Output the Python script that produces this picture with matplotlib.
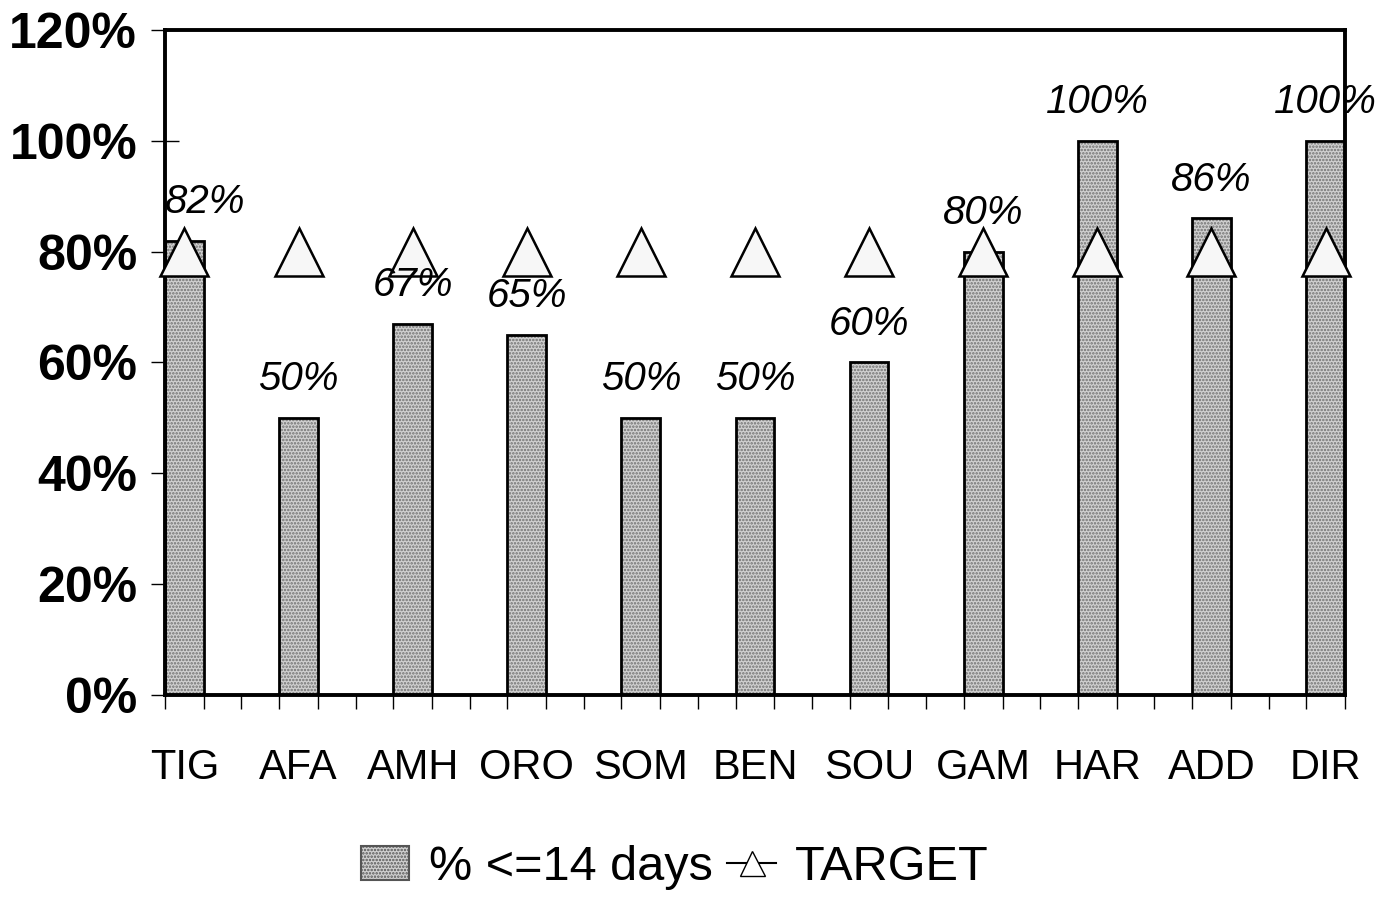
import matplotlib
matplotlib.use('Agg')
import matplotlib.pyplot as plt
import numpy as np
from matplotlib.patches import Patch
from matplotlib.lines import Line2D

# data
regions = ['TIG', 'AFA', 'AMH', 'ORO', 'SOM', 'BEN', 'SOU', 'GAM', 'HAR', 'ADD', 'DIR']
pct_14days = [82, 50, 67, 65, 50, 50, 60, 80, 100, 86, 100]
target = [80, 80, 80, 80, 80, 80, 80, 80, 80, 80, 80]
yticks = [0, 20, 40, 60, 80, 100, 120]

plt.rcParams['font.family'] = ['Liberation Sans', 'DejaVu Sans']
plt.rcParams['hatch.linewidth'] = 1.2

fig = plt.figure(figsize=(13.83, 9.06), dpi=100)
ax = fig.add_axes([0.1193, 0.2329, 0.8532, 0.734])

x = np.arange(len(regions))
w = 0.34
bar_face = '#d0d0d0'
# dotted fill, then black outline
ax.bar(x, pct_14days, width=w, color=bar_face, hatch='.....', edgecolor='#707070',
       linewidth=0, zorder=2)
ax.bar(x, pct_14days, width=w, fill=False, edgecolor='black', linewidth=2, zorder=3)

ax.plot(x, target, linestyle='none', marker='^', markersize=35, markerfacecolor='#f7f7f7',
        markeredgecolor='black', markeredgewidth=1.8, zorder=4, clip_on=False)

for i, v in enumerate(pct_14days):
    dx = 15 if i == 0 else 0
    ax.annotate(f'{v}%', (x[i], v), xytext=(dx, 14), textcoords='offset points',
                ha='center', va='bottom', fontsize=29, style='italic',
                zorder=5, annotation_clip=False)

ax.set_xlim(-w / 2, len(regions) - 1 + w / 2)
ax.set_ylim(0, 120)
ax.set_yticks(yticks)
ax.set_yticklabels([f'{t}%' for t in yticks], fontsize=36, fontweight='bold')
ax.tick_params(axis='y', direction='inout', length=20, width=1, pad=10)

ax.set_xticks(x)
ax.set_xticklabels(regions, fontsize=30)
ax.tick_params(axis='x', which='major', length=0, pad=38)
edges = np.concatenate([x - w / 2, x + w / 2])
mids = x[:-1] + 0.5
ax.set_xticks(np.sort(np.concatenate([edges, mids])), minor=True)
ax.tick_params(axis='x', which='minor', direction='out', length=10, width=1)

for s in ax.spines.values():
    s.set_linewidth(2.8)

handles = [Patch(facecolor=bar_face, hatch='.....', edgecolor='#555555', linewidth=1.5),
           Line2D([0], [0], color='black', linewidth=1.5, marker='^', markersize=18,
                  markerfacecolor='white', markeredgecolor='black')]
fig.legend(handles, ['% <=14 days', 'TARGET'], loc='center', bbox_to_anchor=(0.488, 0.042),
           ncol=2, frameon=False, fontsize=35, handlelength=1.0, handletextpad=0.4,
           columnspacing=0.3)

fig.savefig('out.png', dpi=100)
